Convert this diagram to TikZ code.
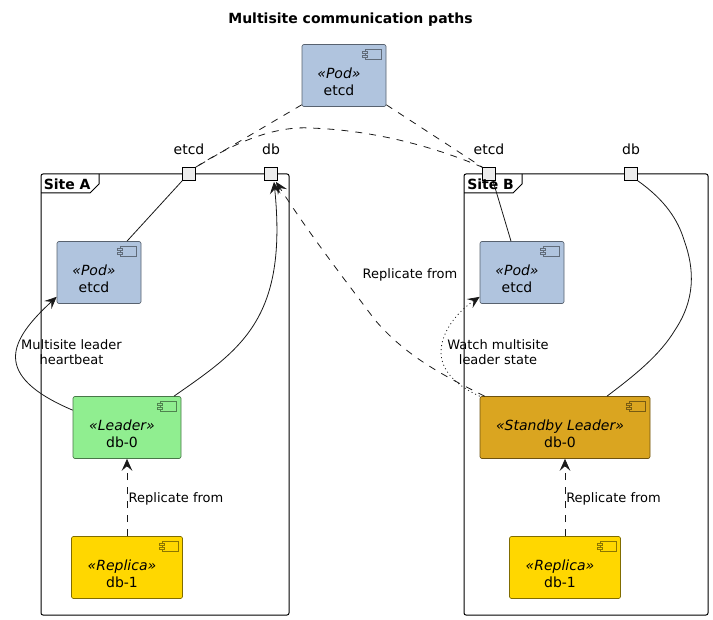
\documentclass[tikz,border=0pt]{standalone}
\usepackage{fontspec}
\setmainfont{DejaVu Sans}
\usetikzlibrary{arrows.meta}
\definecolor{podc}{HTML}{B0C4DE}
\definecolor{leaderc}{HTML}{90EE90}
\definecolor{standbyc}{HTML}{DAA520}
\definecolor{replicac}{HTML}{FFD700}
\definecolor{portc}{HTML}{EDEDED}
\tikzset{
  x=0.75pt,y=-0.75pt,
  comp/.style={draw=black!70,line width=0.5pt,rounded corners=1.5pt,inner sep=0pt},
  ctext/.style={align=center,inner sep=0pt,font=\fontsize{10.5}{12.75}\selectfont},
  frm/.style={draw=black,line width=0.75pt,rounded corners=1.5pt},
  portbox/.style={draw=black,fill=portc,line width=0.9pt,minimum size=9.4pt,inner sep=0pt},
  plabel/.style={font=\fontsize{10.5}{12.6}\selectfont,inner sep=0pt},
  elabel/.style={font=\fontsize{9.75}{11.25}\selectfont,align=center,inner sep=0pt},
  conn/.style={line width=0.6pt,black!90},
  dsh/.style={conn,dash pattern=on 5.25pt off 5.25pt},
  dot/.style={conn,dash pattern=on 0.75pt off 2.25pt},
  arr/.style={-{Stealth[length=9pt,width=8pt,inset=3.5pt]}}
}
\newcommand{\mycomp}[9]{% name, cx, cy, w, h, fill, dx, stereotype, label
  \node[comp,fill=#6,draw=#6!50!black,minimum width=#4*0.75pt,minimum height=#5*0.75pt] (#1) at (#2,#3) {};
  \node[ctext] (#1t) at ([shift={(#7,6)}]#1.center) {\textit{«#8»}\\#9};
  \draw[draw=#6!55!black,line width=0.5pt,fill=#6] ([shift={(-21,5)}]#1.north east) rectangle ([shift={(-5,15)}]#1.north east);
  \draw[draw=#6!55!black,line width=0.5pt,fill=#6] ([shift={(-24,7)}]#1.north east) rectangle ([shift={(-19,9.5)}]#1.north east);
  \draw[draw=#6!55!black,line width=0.5pt,fill=#6] ([shift={(-24,11)}]#1.north east) rectangle ([shift={(-19,13.5)}]#1.north east);
}
\begin{document}
\begin{tikzpicture}
\useasboundingbox (0,0) rectangle (713,620);
\node[font=\bfseries\fontsize{10.5}{12}\selectfont,inner sep=0pt] (title) at (350.5,19.5) {Multisite communication paths};
% frames
\draw[frm] (41,174) rectangle (289,615);
\draw[frm] (464,174) rectangle (708,615);
\draw[line width=0.75pt] (41,193) -- (90,193) -- (99,184) -- (99,174);
\draw[line width=0.75pt] (464,193) -- (513,193) -- (522,184) -- (522,174);
% components
\mycomp{podtop}{344}{75.5}{84}{62}{podc}{-5}{Pod}{etcd}
\mycomp{poda}{99}{272.5}{84}{62}{podc}{-5}{Pod}{etcd}
\mycomp{podb}{522}{272.5}{84}{62}{podc}{-5}{Pod}{etcd}
\mycomp{leader}{127}{427.5}{108}{62}{leaderc}{-5}{Leader}{db-0}
\mycomp{standby}{565}{427.5}{170}{62}{standbyc}{-5}{Standby Leader}{db-0}
\mycomp{repa}{127}{567.5}{111}{62}{replicac}{-5}{Replica}{db-1}
\mycomp{repb}{565}{567.5}{111}{62}{replicac}{-5}{Replica}{db-1}
% ports
\node[portbox] (pae) at (189,174) {};
\node[portbox] (pad) at (271,174) {};
\node[portbox] (pbe) at (489,174) {};
\node[portbox] (pbd) at (631,174) {};
\node[plabel] (lae) at (189,149) {etcd};
\node[plabel] (lad) at (271,149) {db};
\node[plabel] (lbe) at (489,149) {etcd};
\node[plabel] (lbd) at (631,149) {db};
% connectors
\draw[dsh] (podtop.south west) ++(0,-2) -- (pae.north east);
\draw[dsh] (podtop.south east) ++(0,-2) -- (pbe.north west);
\draw[dsh] (pae.north east) .. controls (235,142) and (275,126) .. (310,128) .. controls (370,130) and (430,145) .. (pbe.north west);
\draw[conn] (pae.south west) -- ([shift={(28,0)}]poda.north);
\draw[conn] ([shift={(4,0)}]pbe.south) -- ([shift={(-11,0)}]podb.north);
\draw[conn,arr] ([shift={(47,0)}]leader.north) .. controls (240,350) and (288,320) .. ([shift={(3,1)}]pad.south);
\draw[conn] (pbd.south east) .. controls (665,200) and (678,220) .. (684,240) .. controls (695,270) and (695,300) .. (675,330) .. controls (660,355) and (635,375) .. ([shift={(42,0)}]standby.north);
\draw[conn,arr] ([shift={(0,14)}]leader.north west) .. controls (-10,375) and (10,340) .. ([shift={(0,-7)}]poda.south west);
\draw[dsh,arr] (repa.north) -- (leader.south);
\draw[dsh,arr] (repb.north) -- (standby.south);
\draw[dsh,arr] ([shift={(5,0)}]standby.north west) .. controls (440,374) and (405,355) .. (375,320) .. controls (345,280) and (310,235) .. ([shift={(5,1)}]pad.south);
\draw[dot,arr] (standby.north west) .. controls (455,385) and (441,370) .. (441,352) .. controls (441,330) and (460,310) .. ([shift={(0,-7)}]podb.south west);
% edge labels
\node[elabel] (e1) at (410,274.5) {Replicate from};
\node[elabel] (e2) at (71.5,352) {Multisite leader\\heartbeat};
\node[elabel] (e3) at (498,352) {Watch multisite\\leader state};
\node[elabel] (e4) at (176,498.5) {Replicate from};
\node[elabel] (e5) at (613.5,498.5) {Replicate from};
\node[font=\bfseries\fontsize{10.5}{12}\selectfont,inner sep=0pt,anchor=west] (sa) at (43.5,184.5) {Site A};
\node[font=\bfseries\fontsize{10.5}{12}\selectfont,inner sep=0pt,anchor=west] (sb) at (467,184.5) {Site B};
\end{tikzpicture}
\end{document}
